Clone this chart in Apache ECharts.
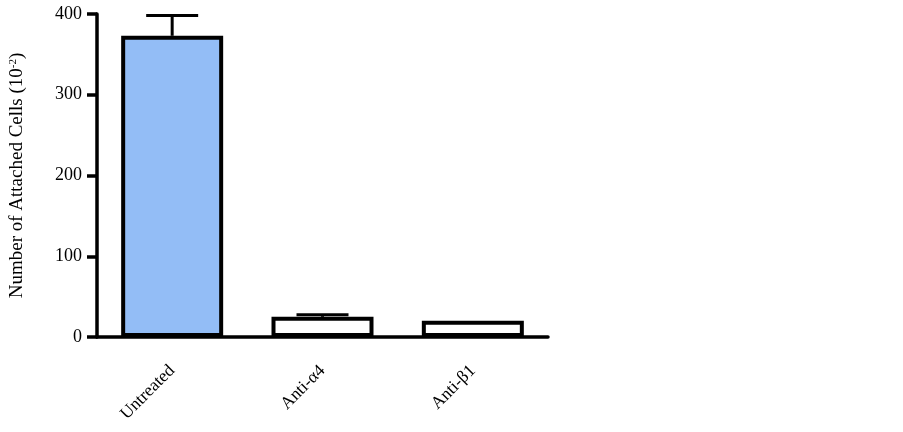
<!DOCTYPE html>
<html>
<head>
<meta charset="utf-8">
<script src="https://cdn.jsdelivr.net/npm/echarts@6/dist/echarts.min.js"></script>
<style>
  html, body { margin: 0; padding: 0; background: #fff; }
  #chart { width: 903px; height: 432px; }
</style>
</head>
<body>
<div id="chart"></div>
<script>
var categories = ['Untreated', 'Anti-\u03b14', 'Anti-\u03b21'];
var values = [373, 25, 20];
var errors = [25, 2.5, 0];
var barColors = ['#93bdf6', '#ffffff', '#ffffff'];
var yTicks = [0, 100, 200, 300, 400];

var serif = '"Liberation Serif", "DejaVu Serif", serif';

var myChart = echarts.init(document.getElementById('chart'));
myChart.setOption({
  animation: false,
  backgroundColor: '#fff',
  grid: { left: 95, right: 355, top: 14, bottom: 95 },
  xAxis: {
    type: 'category',
    data: categories,
    axisLine: { lineStyle: { color: '#000', width: 3.5 } },
    axisTick: { alignWithLabel: true, length: 9, lineStyle: { color: '#000', width: 3 } },
    axisLabel: { rotate: 45, margin: 31, color: '#000', fontFamily: serif, fontSize: 17.5 }
  },
  yAxis: {
    type: 'value',
    min: yTicks[0],
    max: yTicks[yTicks.length - 1],
    interval: 100,
    splitLine: { show: false },
    axisLine: { show: true, lineStyle: { color: '#000', width: 3.5 } },
    axisTick: { show: true, length: 10, lineStyle: { color: '#000', width: 3.5 } },
    axisLabel: { margin: 15, color: '#000', fontFamily: serif, fontSize: 18 },
    name: 'Number of Attached Cells (10{sup|-2})',
    nameLocation: 'middle',
    nameGap: 70,
    nameTextStyle: {
      color: '#000', fontFamily: serif, fontSize: 19,
      rich: { sup: { fontSize: 11, verticalAlign: 'top', padding: [0, 0, 7, 0], fontFamily: serif, color: '#000' } }
    }
  },
  series: [
    {
      type: 'bar',
      barWidth: 102,
      data: values.map(function (v, i) {
        return { value: v, itemStyle: { color: barColors[i] } };
      }),
      itemStyle: { borderColor: '#000', borderWidth: 4 },
      z: 2
    },
    {
      type: 'custom',
      z: 3,
      data: values.map(function (v, i) { return [i, v, v + errors[i]]; }),
      renderItem: function (params, api) {
        if (api.value(2) <= api.value(1)) return null;
        var lo = api.coord([api.value(0), api.value(1)]);
        var hi = api.coord([api.value(0), api.value(2)]);
        var half = 26;
        var style = { stroke: '#000', lineWidth: 3 };
        return {
          type: 'group',
          children: [
            { type: 'line', shape: { x1: lo[0], y1: lo[1], x2: hi[0], y2: hi[1] }, style: style },
            { type: 'line', shape: { x1: hi[0] - half, y1: hi[1], x2: hi[0] + half, y2: hi[1] }, style: style }
          ]
        };
      }
    }
  ]
});
</script>
</body>
</html>
